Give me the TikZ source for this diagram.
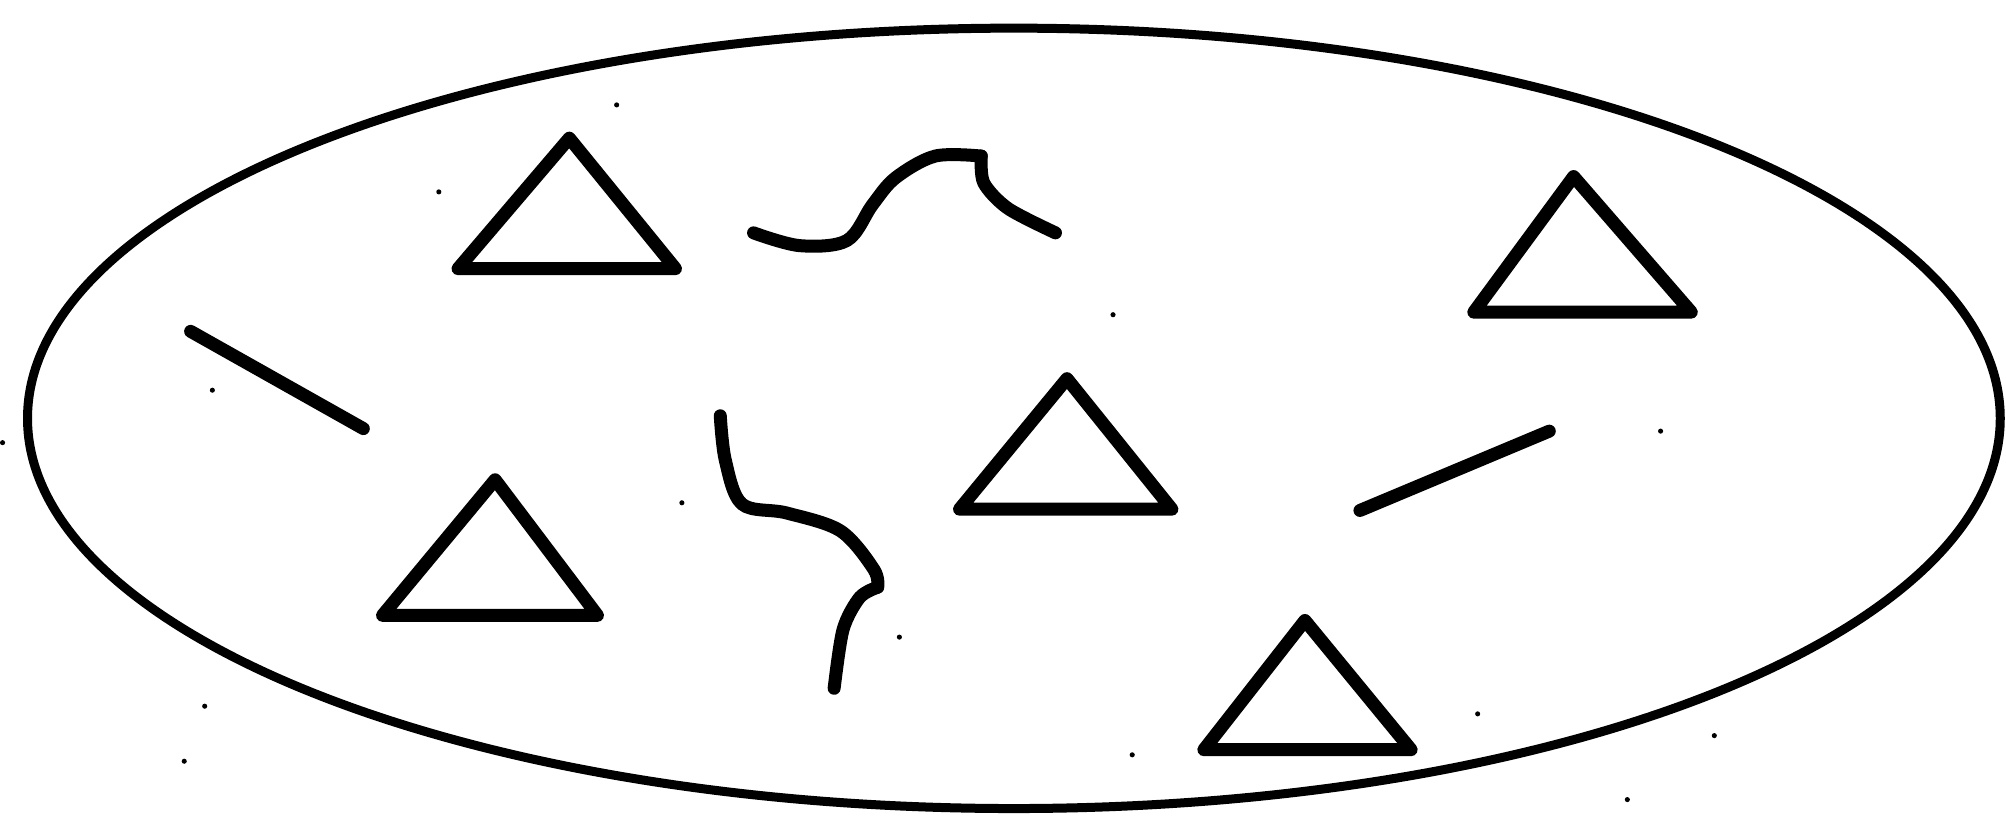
\documentclass[tikz,border=0pt]{standalone}
\begin{document}
\begin{tikzpicture}[x=1.27934pt,y=-1.27934pt,
  ink/.style={line width=13pt,line join=round,line cap=round},
  rim/.style={line width=9pt},
  speck/.style={fill=black}]
\useasboundingbox (0,0) rectangle (1568,641);
% outer ellipse
\draw[rim] (792.5,327) ellipse [x radius=771, y radius=305];
% triangles
\draw[ink] (445,108) -- (358,210) -- (528,210) -- cycle;
\draw[ink] (1230,138) -- (1152,244) -- (1322,244) -- cycle;
\draw[ink] (834,296) -- (750,398) -- (916,398) -- cycle;
\draw[ink] (387,375) -- (299,481) -- (467,481) -- cycle;
\draw[ink] (1020,485) -- (941,586) -- (1103,586) -- cycle;
% straight strokes
\draw[ink] (149,259) -- (284,335);
\draw[ink] (1063,399) -- (1211,337);
% squiggles
\draw[ink] plot[smooth,tension=0.55] coordinates {(589,182) (625,192) (662,188) (682,160) (700,139) (731,122) (767,122)};
\draw[ink] plot[smooth,tension=0.5] coordinates {(767,122) (769,143) (788,163) (825,182)};
\draw[ink] plot[smooth,tension=0.55] coordinates {(563,325) (567,360) (580,394) (615,401) (657,415) (683,445) (686,459)};
\draw[ink] plot[smooth,tension=0.5] coordinates {(686,459) (672,467) (659,492) (652,538)};
% specks
\foreach \p in {(482,82),(343,150),(870,246),(166,305),(1298,337),(533,393),(703,498),(160,552),(1155,558),(144,595),(885,590),(1340,575),(1272,625),(2,346)}
  \fill[speck] \p circle (2);
\end{tikzpicture}
\end{document}
